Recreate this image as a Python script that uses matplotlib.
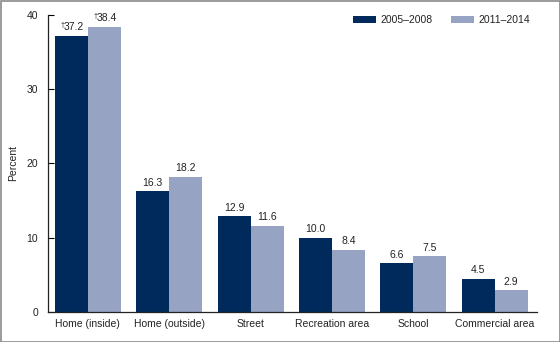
import matplotlib.pyplot as plt
import matplotlib.patches as mpatches
import numpy as np

plt.rcParams['font.family'] = ['Liberation Sans', 'DejaVu Sans']

categories = ["Home (inside)", "Home (outside)", "Street", "Recreation area", "School", "Commercial area"]
period_1 = [37.2, 16.3, 12.9, 10.0, 6.6, 4.5]
period_2 = [38.4, 18.2, 11.6, 8.4, 7.5, 2.9]
series_names = ["2005\u20132008", "2011\u20132014"]
dagger_1 = [True, False, False, False, False, False]
dagger_2 = [True, False, False, False, False, False]

dark = "#002a5c"
light = "#97a3c3"
fs = 7.5

fig = plt.figure(figsize=(5.6, 3.42), dpi=100)
ax = fig.add_axes([48 / 560, 30 / 342, 489 / 560, 297 / 342])

x = np.arange(len(categories))
w = 0.405
b1 = ax.bar(x - w / 2, period_1, w, color=dark, label=series_names[0])
b2 = ax.bar(x + w / 2, period_2, w, color=light, label=series_names[1])


def add_labels(bars, vals, daggers):
    for rect, v, d in zip(bars, vals, daggers):
        cx = rect.get_x() + rect.get_width() / 2
        top = rect.get_height()
        ax.annotate(f"{v:.1f}", (cx, top), xytext=(1.8 if d else 0, 2.5),
                    textcoords="offset points", ha="center", va="bottom",
                    fontsize=fs, color="#222222")
        if d:
            ax.annotate("\u2020", (cx, top), xytext=(-6.6, 5.0),
                        textcoords="offset points", ha="center", va="bottom",
                        fontsize=5, color="#222222")


add_labels(b1, period_1, dagger_1)
add_labels(b2, period_2, dagger_2)

ax.set_xlim(-0.49, 5.52)
ax.set_ylim(0, 40)
ax.set_yticks([0, 10, 20, 30, 40])
ax.set_xticks(x)
ax.set_xticklabels(categories, fontsize=fs, color="#222222")
ax.tick_params(axis="x", length=0, pad=5)
ax.tick_params(axis="y", direction="in", length=4, width=0.8, pad=7,
               labelsize=fs, labelcolor="#222222")
for s in ["top", "right"]:
    ax.spines[s].set_visible(False)
for s in ["left", "bottom"]:
    ax.spines[s].set_linewidth(0.9)
    ax.spines[s].set_color("#222222")

fig.text(13 / 560, 1 - 163 / 342, "Percent", rotation=90, ha="center", va="center",
         fontsize=fs, color="#222222")

ax.legend(loc="upper right", bbox_to_anchor=(1.005, 1.03), ncol=2, frameon=False,
          fontsize=fs, handlelength=2.2, handleheight=0.6, handletextpad=0.4,
          columnspacing=1.8, labelcolor="#222222")

fig.add_artist(mpatches.Rectangle((0.5 / 560, 0.5 / 342), 559 / 560, 341 / 342,
                                  transform=fig.transFigure, fill=False,
                                  edgecolor="#8a8a8a", linewidth=1.2))

fig.savefig("out.png", dpi=100)
